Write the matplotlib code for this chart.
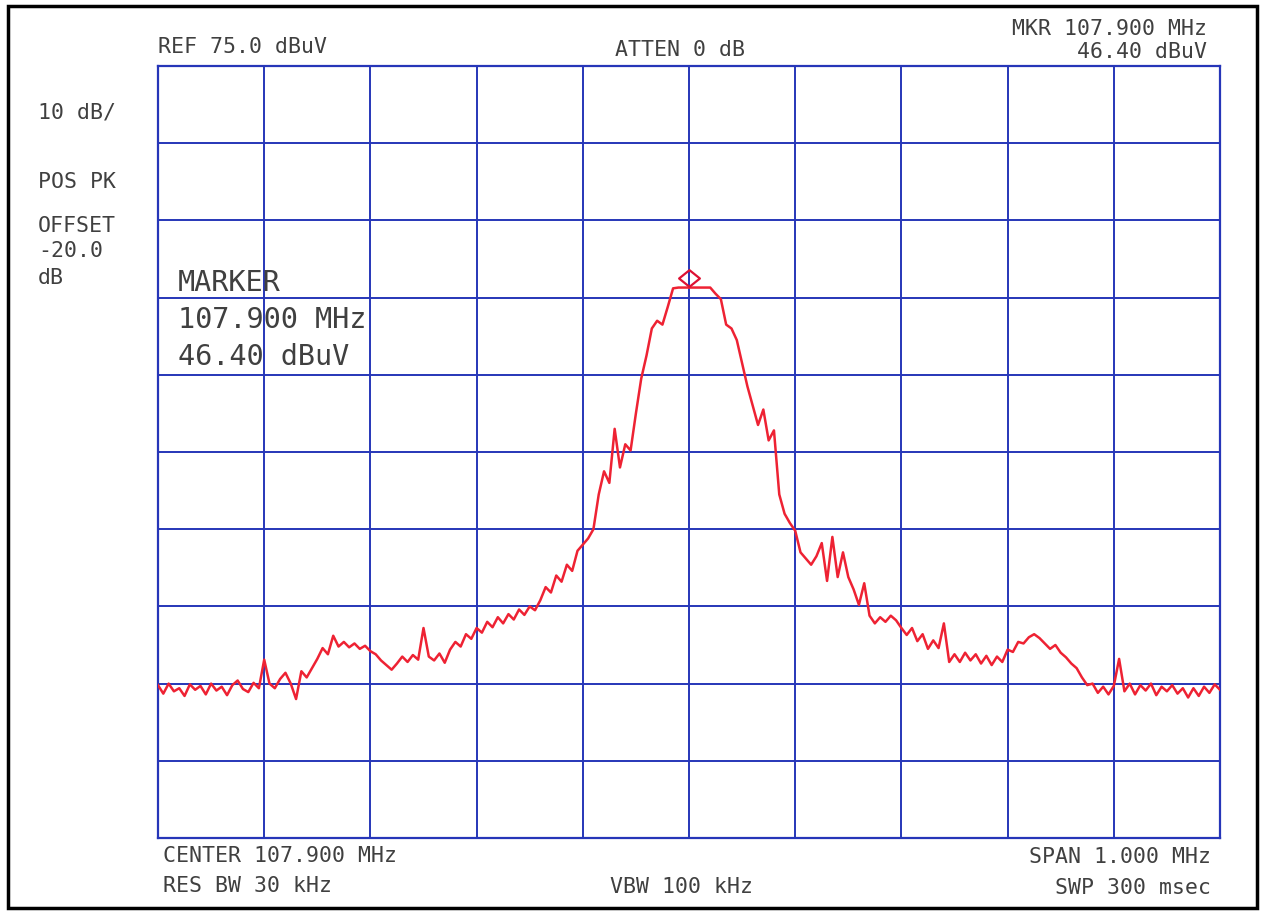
import numpy as np
import matplotlib.pyplot as plt
from matplotlib.path import Path
from matplotlib.patches import Rectangle
import matplotlib.transforms as mtransforms

# Spectrum analyzer settings
center_mhz = 107.9
span_mhz = 1.0
ref_level = 75.0
db_per_div = 10.0
marker_freq = 107.900
marker_level = 46.40

# Trace levels (dBuV) at 5 kHz steps from 107.400 to 108.400 MHz
level = [
    -5.2, -6.3, -5.0, -6.0, -5.6, -6.6, -5.1, -5.8, -5.3, -6.4,
    -5.0, -5.9, -5.4, -6.5, -5.2, -4.6, -5.7, -6.1, -4.9, -5.6,
    -1.9, -5.0, -5.6, -4.4, -3.6, -5.0, -7.0, -3.4, -4.2, -3.0,
    -1.8, -0.4, -1.2, 1.2, -0.2, 0.4, -0.3, 0.2, -0.5, -0.1,
    -0.8, -1.2, -2.0, -2.6, -3.2, -2.4, -1.5, -2.2, -1.3, -1.9,
    2.2, -1.5, -2.0, -1.1, -2.3, -0.6, 0.4, -0.2, 1.4, 0.8,
    2.2, 1.6, 3.0, 2.3, 3.6, 2.8, 4.0, 3.3, 4.6, 3.9,
    5.0, 4.5, 5.8, 7.5, 6.8, 9.0, 8.2, 10.4, 9.6, 12.2,
    13.0, 13.8, 15.0, 19.5, 22.5, 21.0, 28.0, 23.0, 26.0, 25.2,
    30.0, 34.5, 37.5, 41.0, 42.0, 41.5, 43.8, 46.2, 46.3, 46.3,
    46.3, 46.3, 46.3, 46.3, 46.3, 45.5, 44.8, 41.5, 41.0, 39.5,
    36.5, 33.5, 31.0, 28.5, 30.5, 26.5, 27.8, 19.5, 17.0, 15.8,
    14.8, 12.0, 11.2, 10.4, 11.5, 13.2, 8.3, 14.0, 8.8, 12.0,
    8.8, 7.2, 5.2, 8.0, 3.8, 2.8, 3.6, 3.0, 3.8, 3.2,
    2.2, 1.3, 2.2, 0.5, 1.4, -0.5, 0.6, -0.4, 2.8, -2.2,
    -1.2, -2.2, -1.0, -2.0, -1.2, -2.4, -1.4, -2.6, -1.5, -2.2,
    -0.6, -0.9, 0.4, 0.2, 1.0, 1.4, 0.9, 0.2, -0.5, 0.0,
    -1.0, -1.6, -2.4, -3.0, -4.2, -5.2, -5.0, -6.2, -5.4, -6.4,
    -5.3, -1.8, -6.0, -5.0, -6.4, -5.2, -5.9, -5.0, -6.5, -5.4,
    -6.0, -5.2, -6.3, -5.6, -6.8, -5.6, -6.6, -5.4, -6.2, -5.1,
    -5.8,
]

W, H = 1264, 913
fig = plt.figure(figsize=(W / 100, H / 100), dpi=100)
fig.patch.set_facecolor("white")

# plot area in pixels
left, right, top, bottom = 158, 1220, 66, 838
ax = fig.add_axes([left / W, 1 - bottom / H, (right - left) / W, (bottom - top) / H])

f_start = center_mhz - span_mhz / 2
f_stop = center_mhz + span_mhz / 2
freq = np.linspace(f_start, f_stop, len(level))
y_bottom = ref_level - 10 * db_per_div

grid_col = "#2636b8"
trace_col = "#ee2233"
text_col = "#404040"

ax.set_xlim(f_start, f_stop)
ax.set_ylim(y_bottom, ref_level)
ax.set_xticks(np.linspace(f_start, f_stop, 11))
ax.set_yticks(np.arange(y_bottom, ref_level + 1, db_per_div))
ax.grid(True, color=grid_col, linewidth=1.4)
ax.tick_params(length=0, labelbottom=False, labelleft=False)
for s in ax.spines.values():
    s.set_color(grid_col)
    s.set_linewidth(1.6)

ax.plot(freq, level, color=trace_col, linewidth=1.8, zorder=3)

# marker diamond sitting just above the peak
diamond = Path([(-1, 0), (0, 0.8), (1, 0), (0, -0.8), (-1, 0)],
               [Path.MOVETO, Path.LINETO, Path.LINETO, Path.LINETO, Path.CLOSEPOLY])
mk_tr = mtransforms.offset_copy(ax.transData, fig=fig, y=6, units="points")
ax.plot([marker_freq], [marker_level], marker=diamond, markersize=15,
        markerfacecolor="none", markeredgecolor="#dd1133", markeredgewidth=1.6,
        transform=mk_tr, zorder=4, clip_on=False)

mono = "DejaVu Sans Mono"


def label(px, py, s, ha="left", size=15.5):
    fig.text(px / W, 1 - py / H, s, ha=ha, va="center", family=mono,
             fontsize=size, color=text_col)


label(158, 47, "REF 75.0 dBuV")
label(680, 50, "ATTEN 0 dB", ha="center")
label(1207, 29, "MKR 107.900 MHz", ha="right")
label(1207, 52, f"{marker_level:.2f} dBuV", ha="right")
label(38, 113, "10 dB/")
label(38, 182, "POS PK")
label(38, 226, "OFFSET")
label(38, 251, "-20.0")
label(38, 278, "dB")
label(178, 283, "MARKER", size=20.5)
label(178, 320, f"{marker_freq:.3f} MHz", size=20.5)
label(178, 357, f"{marker_level:.2f} dBuV", size=20.5)
label(163, 856, "CENTER 107.900 MHz")
label(163, 886, "RES BW 30 kHz")
label(610, 887, "VBW 100 kHz")
label(1211, 857, "SPAN 1.000 MHz", ha="right")
label(1211, 888, "SWP 300 msec", ha="right")

# scanned page border
fig.patches.append(Rectangle((8 / W, 1 - 908 / H), (1257 - 8) / W, (908 - 6) / H,
                             transform=fig.transFigure, fill=False,
                             edgecolor="black", linewidth=2.5))

fig.savefig("out.png", dpi=100)
